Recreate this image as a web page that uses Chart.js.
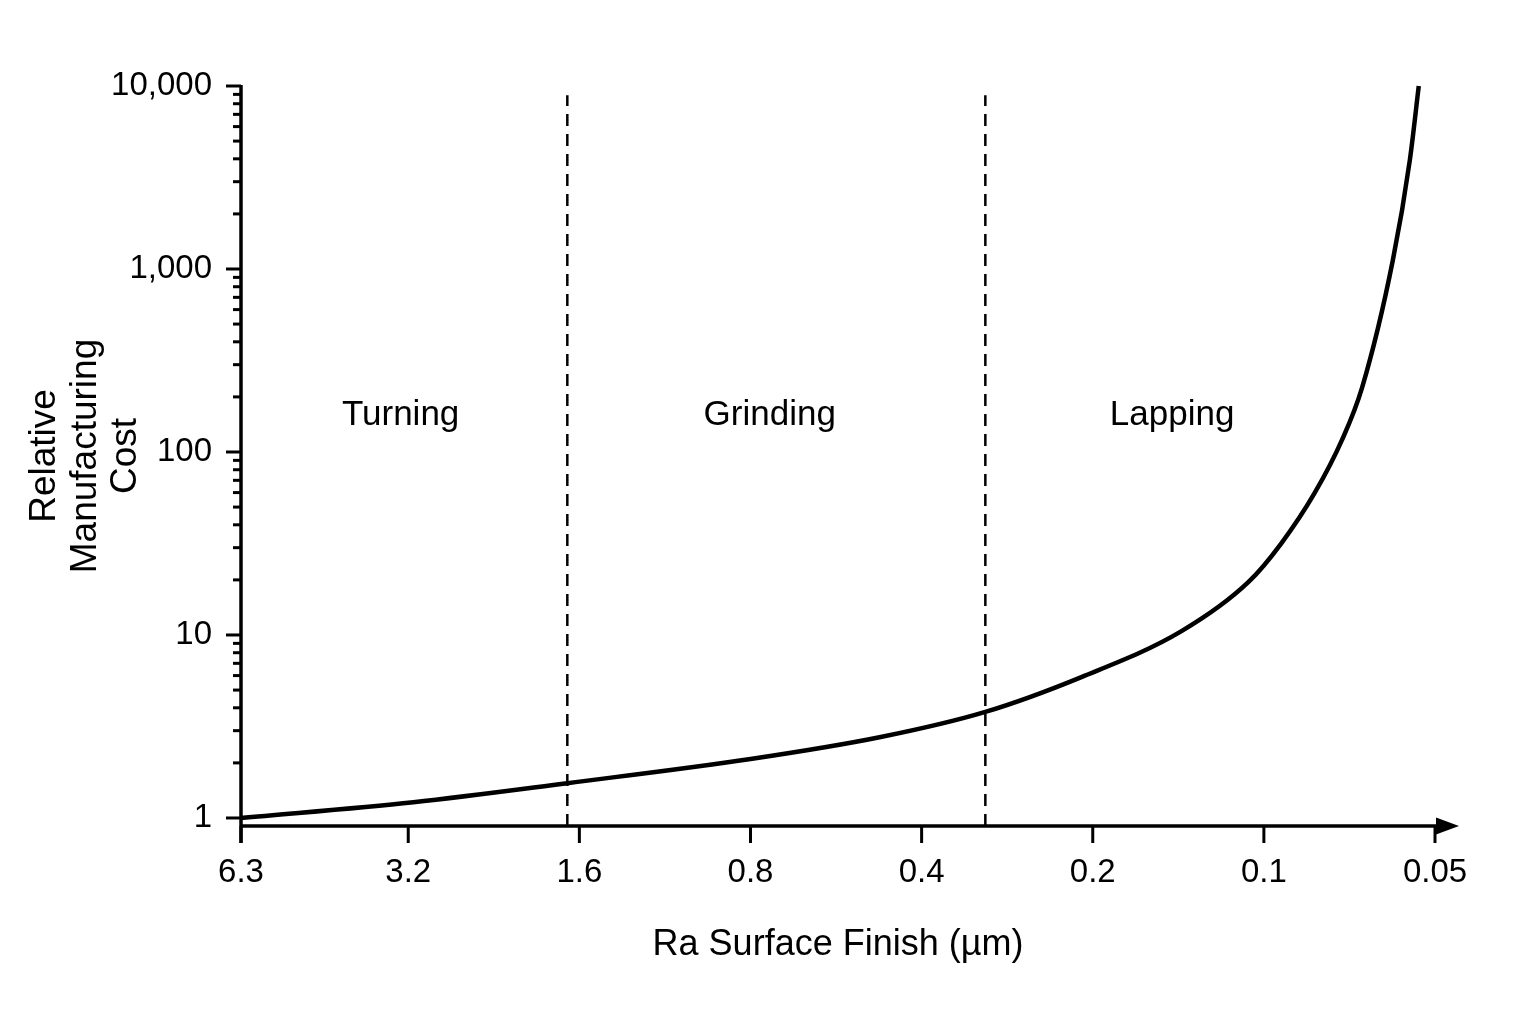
<!DOCTYPE html>
<html><head><meta charset="utf-8">
<script src="https://cdn.jsdelivr.net/npm/chart.js@4"></script>
<style>html,body{margin:0;padding:0;background:#fff;} canvas{display:block;}</style>
</head><body>
<canvas id="c" width="1536" height="1024"></canvas>
<script>
// ---- data ----
const xTickValues = [6.3, 3.2, 1.6, 0.8, 0.4, 0.2, 0.1, 0.05];
const xTickLabels = ['6.3', '3.2', '1.6', '0.8', '0.4', '0.2', '0.1', '0.05'];
const yMajorTicks = [1, 10, 100, 1000, 10000];
const yTickLabels = ['1', '10', '100', '1,000', '10,000'];

const curveRa   = [6.3, 3.135, 1.68, 0.8, 0.472, 0.309, 0.2094, 0.1396, 0.1064, 0.0931, 0.0814, 0.0729, 0.0672, 0.0593, 0.05536, 0.0534];
const curveCost = [1.0, 1.22, 1.55, 2.1, 2.77, 3.8, 5.89, 10.5, 19.5, 31.8, 59.7, 116, 224, 1120, 3944, 10000];

const boundaryRa = [1.68, 0.309];
const boundaryCostSpan = [0.904, 8900];

const regionNames = ['Turning', 'Grinding', 'Lapping'];
const regionRa = [3.3, 0.74, 0.145];
const regionCost = [158, 158, 158];

const xTitle = 'Ra Surface Finish (µm)';
const yTitle = ['Relative', 'Manufacturing', 'Cost'];

// ---- chart ----
const FONT = "'Liberation Sans', Arial, Helvetica, sans-serif";
const INK = '#000';

const yAllTicks = [];
yMajorTicks.forEach((m, i) => {
  yAllTicks.push(m);
  if (i < yMajorTicks.length - 1) for (let k = 2; k <= 9; k++) yAllTicks.push(m * k);
});

const datasets = [{
  data: curveRa.map((r, i) => ({x: r, y: curveCost[i]})),
  borderColor: INK, borderWidth: 4.5, pointRadius: 0,
  cubicInterpolationMode: 'monotone', fill: false, clip: 6
}];
boundaryRa.forEach(r => datasets.push({
  data: boundaryCostSpan.map(c => ({x: r, y: c})),
  borderColor: INK, borderWidth: 2.5, borderDash: [12, 8], pointRadius: 0, fill: false
}));

const axesPlugin = {
  id: 'axesPlugin',
  afterDatasetsDraw(chart) {
    const {ctx, chartArea: a, scales: {x, y}} = chart;
    const line = (x1, y1, x2, y2) => { ctx.beginPath(); ctx.moveTo(x1, y1); ctx.lineTo(x2, y2); ctx.stroke(); };
    ctx.save();
    ctx.strokeStyle = INK; ctx.fillStyle = INK; ctx.lineCap = 'butt';
    ctx.lineWidth = 3.5;
    line(a.left, a.top - 1, a.left, a.bottom + 17);
    line(a.left, a.bottom, a.right + 4, a.bottom);
    ctx.beginPath();
    ctx.moveTo(a.right + 24, a.bottom);
    ctx.lineTo(a.right + 1, a.bottom - 8.5);
    ctx.lineTo(a.right + 1, a.bottom + 8.5);
    ctx.closePath(); ctx.fill();
    ctx.lineWidth = 3;
    y.ticks.forEach(t => {
      const py = y.getPixelForValue(t.value);
      const len = yMajorTicks.includes(t.value) ? 15 : 8;
      line(a.left - len, py, a.left, py);
    });
    x.ticks.forEach(t => {
      const px = x.getPixelForValue(t.value);
      line(px, a.bottom, px, a.bottom + 17);
    });
    ctx.font = `35px ${FONT}`;
    ctx.textAlign = 'center'; ctx.textBaseline = 'middle';
    regionNames.forEach((n, i) => {
      ctx.fillText(n, x.getPixelForValue(regionRa[i]), y.getPixelForValue(regionCost[i]));
    });
    ctx.restore();
  }
};

new Chart(document.getElementById('c'), {
  type: 'line',
  data: {datasets},
  options: {
    responsive: false, animation: false, devicePixelRatio: 1,
    layout: {padding: {top: 86, right: 101, bottom: 0, left: 0}},
    plugins: {legend: {display: false}, tooltip: {enabled: false}},
    scales: {
      x: {
        type: 'logarithmic', reverse: true, min: 0.05, max: 6.3,
        grid: {display: false}, border: {display: false},
        afterBuildTicks: s => { s.ticks = xTickValues.map(v => ({value: v})); },
        afterFit: s => { s.height = 198; },
        ticks: {autoSkip: false, maxRotation: 0, minRotation: 0, padding: 19, color: INK,
          font: {family: FONT, size: 33}, callback: (v, i) => xTickLabels[i]},
        title: {display: true, text: xTitle, color: INK, font: {family: FONT, size: 36},
          padding: {top: 0, bottom: 57}}
      },
      y: {
        type: 'logarithmic', min: 0.904, max: 10000,
        grid: {display: false}, border: {display: false},
        afterBuildTicks: s => { s.ticks = yAllTicks.map(v => ({value: v})); },
        afterFit: s => { s.width = 241; },
        ticks: {autoSkip: false, padding: 21, color: INK, font: {family: FONT, size: 33},
          callback: v => { const i = yMajorTicks.indexOf(v); return i >= 0 ? yTickLabels[i] : ''; }},
        title: {display: true, text: yTitle, color: INK, font: {family: FONT, size: 37, lineHeight: 1.09},
          padding: {top: 25, bottom: 0}}
      }
    }
  },
  plugins: [axesPlugin]
});
</script>
</body></html>
